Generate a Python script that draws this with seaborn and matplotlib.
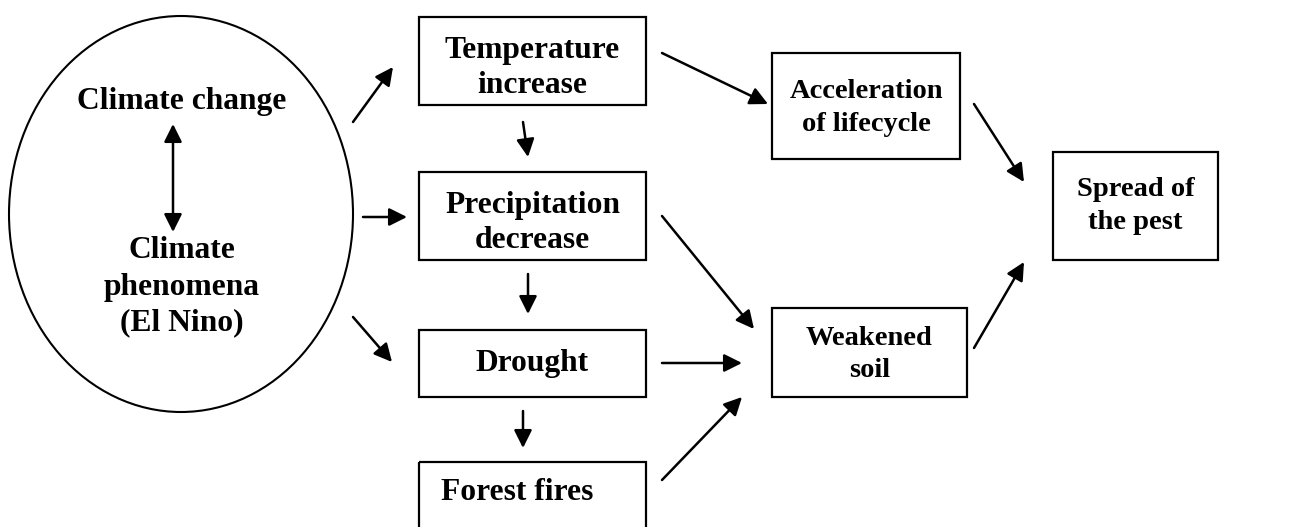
import matplotlib
matplotlib.use("Agg")
import matplotlib.pyplot as plt
import seaborn as sns
from matplotlib.patches import Ellipse, Rectangle

sns.set_theme(style="white")
plt.rcParams['font.family'] = ['Liberation Serif', 'DejaVu Serif']
plt.rcParams['text.color'] = 'black'

# node texts
driver_labels = ["Climate change", "Climate\nphenomena\n(El Nino)"]
factor_labels = ["Temperature\nincrease", "Precipitation\ndecrease", "Drought", "Forest fires"]
effect_labels = ["Acceleration\nof lifecycle", "Weakened\nsoil"]
outcome_label = "Spread of\nthe pest"

# layout in pixel space (x, y from top-left): left, top, right, bottom
factor_boxes = [(419, 17, 646, 105), (419, 172, 646, 260), (419, 330, 646, 397), (419, 462, 646, 535)]
effect_boxes = [(772, 53, 960, 159), (772, 308, 967, 397)]
outcome_box = (1053, 152, 1218, 260)

# arrows: (x0, y0) -> (x1, y1)
arrows = [
    ((353, 122), (393, 67)),
    ((363, 217), (407, 217)),
    ((353, 317), (392, 362)),
    ((523, 122), (528, 157)),
    ((528, 274), (528, 314)),
    ((523, 411), (523, 448)),
    ((662, 53), (768, 104)),
    ((662, 216), (754, 329)),
    ((662, 363), (742, 363)),
    ((662, 480), (742, 397)),
    ((974, 104), (1024, 182)),
    ((974, 348), (1024, 262)),
]

fig = plt.figure(figsize=(13.09, 5.27), dpi=100)
ax = fig.add_axes([0, 0, 1, 1])
ax.set_xlim(0, 1309)
ax.set_ylim(527, 0)
ax.axis("off")

head = dict(mutation_scale=27, lw=1.8, color="black", shrinkA=0, shrinkB=0)

# climate ellipse
ax.add_patch(Ellipse((181, 214), 344, 396, fill=False, lw=1.5, ec="black"))
ax.text(182, 102, driver_labels[0], ha="center", va="center", fontsize=22.7, fontweight="bold")
ax.text(182, 287, driver_labels[1], ha="center", va="center", fontsize=22.7, fontweight="bold",
        linespacing=1.32)
ax.annotate("", xy=(173, 124), xytext=(173, 232), arrowprops=dict(arrowstyle="<|-|>", **head))


def draw_box(box, label, size, spacing, dy=0, dx=0):
    l, t, r, b = box
    ax.add_patch(Rectangle((l, t), r - l, b - t, fill=False, lw=1.6, ec="black"))
    cy = (t + b) / 2 if b <= 527 else 492
    ax.text((l + r) / 2 + dx, cy + dy, label, ha="center", va="center", fontsize=size,
            fontweight="bold", linespacing=spacing)


for box, label in zip(factor_boxes, factor_labels):
    if label == "Forest fires":
        draw_box(box, label, 22.7, 1.25, dy=0, dx=-15)
    elif "\n" in label:
        draw_box(box, label, 22.7, 1.25, dy=7)
    else:
        draw_box(box, label, 22.7, 1.25, dy=0)
for box, label in zip(effect_boxes, effect_labels):
    draw_box(box, label, 20.5, 1.38, dy=2)
draw_box(outcome_box, outcome_label, 20.5, 1.38, dy=0)

for (x0, y0), (x1, y1) in arrows:
    ax.annotate("", xy=(x1, y1), xytext=(x0, y0), arrowprops=dict(arrowstyle="-|>", **head))

fig.savefig("out.png", dpi=100, facecolor="white")
